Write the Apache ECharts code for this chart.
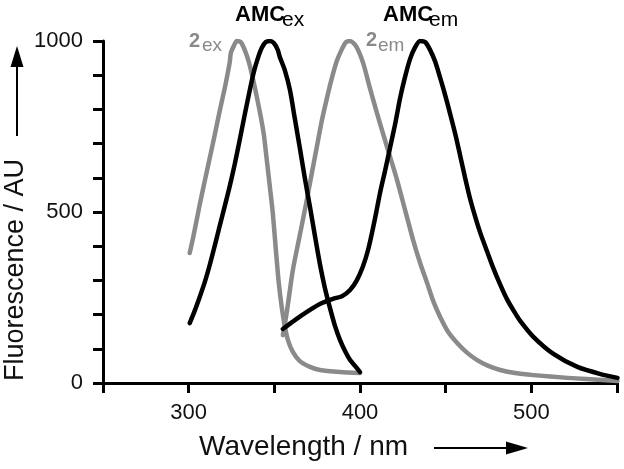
<!DOCTYPE html>
<html>
<head>
<meta charset="utf-8">
<script src="https://cdn.jsdelivr.net/npm/echarts@6/dist/echarts.min.js"></script>
<style>html,body{margin:0;padding:0;background:#fff}#c{width:624px;height:469px}</style>
</head>
<body>
<div id="c"></div>
<script>
// Wavelength (nm) and fluorescence (AU)
const wl_2ex  = [300.6, 302.3, 304.1, 306.4, 309.4, 312.3, 315.2, 318.1, 321.1, 322.8, 324.0, 324.6, 326.3, 328.1, 330.4, 332.7, 335.1, 337.4, 339.8, 342.1, 343.9, 345.6, 347.4, 349.1, 350.9, 352.6, 354.4, 356.1, 357.9, 360.8, 364.9, 370.8, 376.6, 388.3, 400];
const val_2ex = [380, 418, 462, 520, 591, 658, 725, 795, 863, 906, 939, 965, 985, 1000, 997, 974, 939, 892, 836, 778, 725, 652, 573, 497, 389, 292, 219, 167, 126, 91, 64, 47, 38, 32, 29];

const wl_AMCex  = [300.6, 303.5, 306.4, 309.4, 312.3, 315.2, 318.1, 321.1, 324.0, 326.9, 329.8, 332.7, 335.7, 338.0, 340.4, 342.7, 345.0, 347.4, 349.7, 352.0, 353.2, 356.1, 359.1, 362.0, 364.9, 367.8, 370.8, 373.7, 376.6, 379.5, 382.5, 385.4, 388.3, 391.2, 394.2, 397.1, 400];
const val_AMCex = [175, 211, 251, 295, 345, 401, 459, 518, 576, 640, 711, 784, 857, 909, 950, 980, 997, 1000, 994, 974, 953, 915, 857, 772, 687, 599, 515, 430, 348, 278, 219, 167, 126, 94, 67, 50, 32];

const wl_2em  = [355.0, 357.3, 360.8, 364.9, 368.4, 371.9, 374.9, 377.8, 380.7, 383.6, 386.5, 389.5, 391.8, 394.2, 397.7, 401.8, 405.8, 409.9, 415.8, 421.6, 426.3, 431.0, 435.1, 439.2, 442.7, 446.8, 451.5, 456.7, 462.6, 468.4, 474.9, 481.9, 490.6, 501.2, 521.1, 550.3];
const val_2em = [140, 208, 330, 433, 521, 614, 693, 769, 833, 892, 942, 977, 997, 1000, 985, 936, 862, 789, 690, 594, 506, 418, 351, 292, 240, 193, 149, 117, 88, 67, 50, 38, 29, 23, 15, 6];

const wl_AMCem  = [355.0, 362.0, 369.0, 376.6, 384.2, 389.5, 394.2, 398.2, 401.8, 404.7, 407.0, 409.4, 411.7, 414.6, 417.5, 420.5, 423.4, 426.3, 429.2, 432.2, 435.1, 438.0, 440.9, 443.9, 446.8, 449.7, 452.6, 455.6, 458.5, 461.4, 464.3, 467.3, 470.2, 474.3, 477.8, 481.9, 486.0, 490.1, 493.6, 501.2, 512.9, 526.9, 540.4, 550.3];
const val_AMCem = [158, 184, 208, 231, 246, 254, 272, 301, 342, 389, 439, 497, 556, 620, 687, 757, 833, 895, 947, 982, 1000, 997, 974, 939, 892, 842, 787, 728, 664, 599, 538, 485, 439, 383, 336, 287, 243, 208, 181, 135, 85, 47, 26, 15];

const xTickLabels = [300, 400, 500];
const yTickLabels = [0, 500, 1000];

const zip = (a, b) => a.map((v, i) => [v, b[i]]);
const FONT = "'Liberation Sans', Arial, sans-serif";
const GRAY = '#8a8a8a';

const chart = echarts.init(document.getElementById('c'), null, {renderer: 'canvas'});

function mkSeries(name, x, y, color) {
  return {
    name, type: 'line', data: zip(x, y), showSymbol: false, symbol: 'none',
    smooth: 0.25,
    lineStyle: {color, width: 4.5, cap: 'round', join: 'round'},
    z: color === GRAY ? 2 : 3, animation: false
  };
}

function txt(x, y, text, size, weight, color) {
  return {type: 'text', x, y, style: {text, fontSize: size, fontWeight: weight, fontFamily: FONT, fill: color, align: 'left', verticalAlign: 'middle'}};
}

chart.setOption({
  animation: false,
  backgroundColor: '#fff',
  grid: {left: 103, right: 7, top: 41, bottom: 86, containLabel: false},
  xAxis: {
    type: 'value', min: 250, max: 550, interval: 50,
    axisLine: {lineStyle: {color: '#000', width: 3}},
    axisTick: {length: 10, lineStyle: {color: '#000', width: 3}},
    splitLine: {show: false},
    axisLabel: {margin: 19, fontSize: 22, fontFamily: FONT, color: '#111',
      formatter: v => xTickLabels.includes(v) ? String(v) : ''}
  },
  yAxis: {
    type: 'value', min: 0, max: 1000, interval: 100,
    axisLine: {show: true, lineStyle: {color: '#000', width: 3}},
    axisTick: {show: true, length: 10, lineStyle: {color: '#000', width: 3}},
    splitLine: {show: false},
    axisLabel: {margin: 20, fontSize: 22, fontFamily: FONT, color: '#111',
      formatter: v => yTickLabels.includes(v) ? String(v) : ''}
  },
  series: [
    mkSeries('2ex', wl_2ex, val_2ex, GRAY),
    mkSeries('2em', wl_2em, val_2em, GRAY),
    mkSeries('AMCex', wl_AMCex, val_AMCex, '#000'),
    mkSeries('AMCem', wl_AMCem, val_AMCem, '#000')
  ],
  graphic: [
    // Y axis title rotated
    {type: 'text', x: 16, y: 270, rotation: Math.PI / 2,
      style: {text: 'Fluorescence / AU', fontSize: 27, fontFamily: FONT, fill: '#111', align: 'center', verticalAlign: 'middle'}},
    {type: 'line', shape: {x1: 17, y1: 136, x2: 17, y2: 64}, style: {stroke: '#000', lineWidth: 2}},
    {type: 'polygon', shape: {points: [[17, 46], [10.5, 67], [23.5, 67]]}, style: {fill: '#000'}},
    // X axis title
    txt(199, 447, 'Wavelength / nm', 28, 'normal', '#111'),
    {type: 'line', shape: {x1: 434, y1: 448, x2: 508, y2: 448}, style: {stroke: '#000', lineWidth: 2}},
    {type: 'polygon', shape: {points: [[528, 448], [506, 441.5], [506, 454.5]]}, style: {fill: '#000'}},
    // annotations
    txt(235, 15, 'AMC', 22, 'bold', '#000'),
    txt(282, 20, 'ex', 21, 'normal', '#000'),
    txt(383, 15, 'AMC', 22, 'bold', '#000'),
    txt(429, 20, 'em', 21, 'normal', '#000'),
    txt(189, 41, '2', 20, 'bold', GRAY),
    txt(202, 46, 'ex', 19, 'normal', GRAY),
    txt(366, 40, '2', 20, 'bold', GRAY),
    txt(378, 46, 'em', 19, 'normal', GRAY)
  ]
});
</script>
</body>
</html>
